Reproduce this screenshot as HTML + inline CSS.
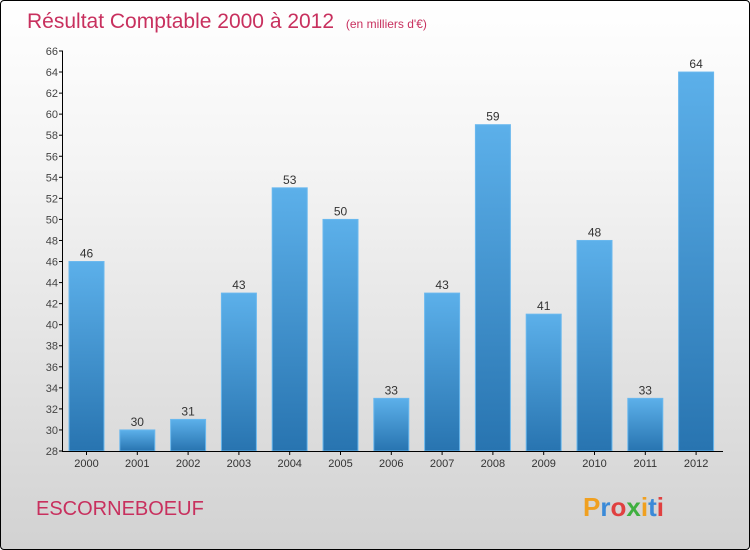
<!DOCTYPE html>
<html><head><meta charset="utf-8"><style>
body{margin:0}
#c{width:748px;height:548px;border:1px solid #000;border-radius:4px;background:linear-gradient(#ffffff,#f4f4f4 30%,#d2d2d2);position:relative;overflow:hidden;font-family:"Liberation Sans",sans-serif}
</style></head><body>
<div id="c">
<svg width="748" height="548" style="position:absolute;left:0;top:0" id="svg">
<defs><linearGradient id="g" x1="0" y1="0" x2="0" y2="1"><stop offset="0" stop-color="#5cb0ea"/><stop offset="1" stop-color="#2874b0"/></linearGradient></defs>
<text x="26" y="27" font-size="21" fill="#c8305e">Résultat Comptable 2000 à 2012 <tspan font-size="12" dx="6">(en milliers d'€)</tspan></text>
<text x="35" y="514" font-size="20" fill="#c8305e">ESCORNEBOEUF</text>
<text x="582" y="515" font-size="26" font-weight="bold"><tspan fill="#f0a020">P</tspan><tspan fill="#3a8ad8">r</tspan><tspan fill="#e04040">o</tspan><tspan fill="#40b040">x</tspan><tspan fill="#f0a020">i</tspan><tspan fill="#3a8ad8">t</tspan><tspan fill="#e04040">i</tspan></text>
</svg>
</div>
<script>
const years=["2000","2001","2002","2003","2004","2005","2006","2007","2008","2009","2010","2011","2012"];
const values=[46,30,31,43,53,50,33,43,59,41,48,33,64];
const ticks=[28,30,32,34,36,38,40,42,44,46,48,50,52,54,56,58,60,62,64,66];
const NS="http://www.w3.org/2000/svg",s=document.getElementById('svg');
const y=v=>450-(v-28)*400/38, x=i=>68+i*50.8;
function el(t,a,txt){const e=document.createElementNS(NS,t);for(const k in a)e.setAttribute(k,a[k]);if(txt!=null)e.textContent=txt;s.appendChild(e);return e;}
values.forEach((v,i)=>{
 const r=el('rect',{x:x(i),y:y(v),width:35,height:450-y(v),fill:'url(#g)',stroke:'#6ab8ee','stroke-width':1});
 
 
 const t=el('text',{x:x(i)+17.5,y:y(v)-4,'font-size':12,fill:'#333','text-anchor':'middle'},v);
 
 
 const tk=el('line',{x1:x(i)+17.5,x2:x(i)+17.5,y1:450,y2:454,stroke:'#000'});
 
 
 const l=el('text',{x:x(i)+17.5,y:466,'font-size':11,fill:'#333','text-anchor':'middle'},years[i]);
 
 
});
ticks.forEach(v=>{
 const tk=el('line',{x1:58,x2:62,y1:y(v),y2:y(v),stroke:'#000'});
 
 
 const l=el('text',{x:57,y:y(v)+4,'font-size':11,fill:'#444','text-anchor':'end'},v);
 
 
});
const ya=el('line',{x1:61.5,x2:61.5,y1:y(66),y2:450,stroke:'#000'});


const xa=el('line',{x1:61,x2:722,y1:450.5,y2:450.5,stroke:'#000'});


</script>
</body></html>
